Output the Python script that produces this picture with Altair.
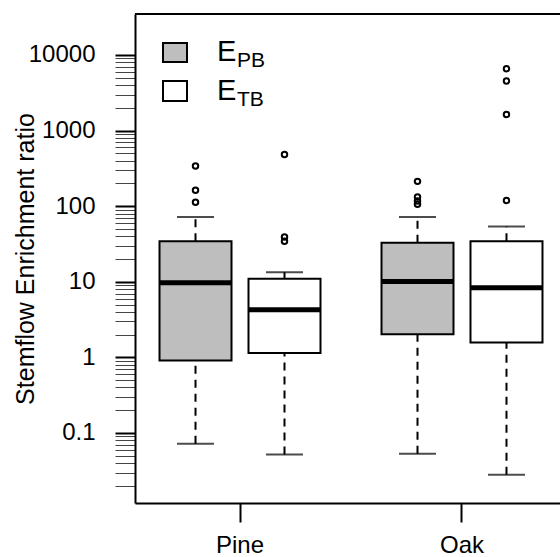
import altair as alt
import pandas as pd

# ---- data ----
species = ["Pine", "Pine", "Oak", "Oak"]
series = ["EPB", "ETB", "EPB", "ETB"]
whisker_low = [0.072, 0.052, 0.053, 0.028]
q1 = [0.91, 1.14, 2.03, 1.58]
median = [9.7, 4.27, 10.1, 8.35]
q3 = [34.5, 11.0, 32.9, 34.5]
whisker_high = [72, 13.4, 72, 54]

out_species = ["Pine"] * 3 + ["Pine"] * 3 + ["Oak"] * 4 + ["Oak"] * 4
out_series = ["EPB"] * 3 + ["ETB"] * 3 + ["EPB"] * 4 + ["ETB"] * 4
out_values = [339, 162, 113, 484, 39, 34.5, 213, 132, 117, 106, 6590, 4520, 1637, 119]

series_order = ["EPB", "ETB"]
series_fill = ["#BEBEBE", "#FFFFFF"]
species_order = ["Pine", "Oak"]

major_ticks = [0.1, 1, 10, 100, 1000, 10000]
minor_decades = [0.01, 0.1, 1, 10, 100, 1000]
minor_mult = [2, 3, 4, 5, 6, 7, 8, 9]

minor_ticks = [round(m * d, 6) for d in minor_decades for m in minor_mult]
tick_values = sorted(major_ticks + minor_ticks)

FONT = "Liberation Sans"

stats = pd.DataFrame({
    "species": species, "series": series,
    "wlo": whisker_low, "q1": q1, "median": median, "q3": q3, "whi": whisker_high,
})
outl = pd.DataFrame({"species": out_species, "series": out_series, "value": out_values})

x_enc = alt.X(
    "species:N", sort=species_order,
    scale=alt.Scale(range=[0, 432], paddingInner=0.254, paddingOuter=0.1),
    axis=alt.Axis(title=None, labelFont=FONT, labelFontSize=24, labelColor="black",
                  labelPadding=11, labelAngle=0, tickSize=19, tickWidth=2,
                  tickColor="black", domainWidth=2, domainColor="black", grid=False),
)
xo_enc = alt.XOffset("series:N", sort=series_order,
                     scale=alt.Scale(paddingInner=0.191, paddingOuter=0.026))

major_test = "indexof([0.1, 1, 10, 100, 1000, 10000], datum.value) >= 0"
y_scale = alt.Scale(type="log", domain=[0.01186, 34850], nice=False)
y_axis = alt.Axis(
    values=tick_values, format="~g",
    labelExpr="indexof(['0.1','1','10','100','1000','10000'], datum.label) >= 0 ? datum.label : ''",
    labelOverlap=False, labelFont=FONT, labelFontSize=24, labelColor="black",
    labelPadding=20, labelBaseline="middle",
    tickSize=20,
    tickColor={"condition": {"test": major_test, "value": "black"}, "value": "#444444"},
    tickWidth={"condition": {"test": major_test, "value": 2}, "value": 1},
    domainWidth=2, domainColor="black", grid=False,
    title="Stemflow Enrichment ratio", titleFont=FONT, titleFontSize=25,
    titleFontWeight="normal", titleColor="black", titleAngle=270,
    titleX=-102, titleY=244.5, titleBaseline="alphabetic", titleAlign="center",
)

base = alt.Chart(stats)

rule_hi = base.mark_rule(color="black", strokeWidth=2, strokeDash=[8, 6]).encode(
    x=x_enc, xOffset=xo_enc,
    y=alt.Y("q3:Q", scale=y_scale, axis=y_axis), y2="whi:Q")
rule_lo = base.mark_rule(color="black", strokeWidth=2, strokeDash=[8, 6]).encode(
    x=x_enc, xOffset=xo_enc, y=alt.Y("wlo:Q", scale=y_scale), y2="q1:Q")
cap_hi = base.mark_tick(color="black", thickness=2, size=37).encode(
    x=x_enc, xOffset=xo_enc, y=alt.Y("whi:Q", scale=y_scale))
cap_lo = base.mark_tick(color="black", thickness=2, size=37).encode(
    x=x_enc, xOffset=xo_enc, y=alt.Y("wlo:Q", scale=y_scale))
boxes = base.mark_bar(stroke="black", strokeWidth=2, opacity=1).encode(
    x=x_enc, xOffset=xo_enc, y=alt.Y("q1:Q", scale=y_scale), y2="q3:Q",
    fill=alt.Fill("series:N", scale=alt.Scale(domain=series_order, range=series_fill),
                  legend=None))
med = base.mark_tick(color="black", thickness=5, size=72, opacity=1).encode(
    x=x_enc, xOffset=xo_enc, y=alt.Y("median:Q", scale=y_scale))
pts = alt.Chart(outl).mark_point(shape="circle", filled=False, size=30,
                                 strokeWidth=2, color="black", opacity=1).encode(
    x=x_enc, xOffset=xo_enc, y=alt.Y("value:Q", scale=y_scale))

# frame top line (view stroke is off so the right edge stays outside the window)
one = pd.DataFrame({"k": [0]})
top_line = alt.Chart(one).mark_rule(color="black", strokeWidth=2).encode(
    x=alt.value(0), x2=alt.value(445), y=alt.value(0))

# custom legend with subscripts
leg_box1 = alt.Chart(one).mark_rect(fill=series_fill[0], stroke="black", strokeWidth=2).encode(
    x=alt.value(28), x2=alt.value(52), y=alt.value(29), y2=alt.value(48))
leg_box2 = alt.Chart(one).mark_rect(fill=series_fill[1], stroke="black", strokeWidth=2).encode(
    x=alt.value(28), x2=alt.value(52), y=alt.value(67), y2=alt.value(87))
leg_texts = []
for main, sub, yb in [("E", "PB", 46.7), ("E", "TB", 86)]:
    leg_texts.append(alt.Chart(one).mark_text(
        text=main, font=FONT, fontSize=29, align="left", baseline="alphabetic",
        color="black").encode(x=alt.value(82), y=alt.value(yb)))
    leg_texts.append(alt.Chart(one).mark_text(
        text=sub, font=FONT, fontSize=21, align="left", baseline="alphabetic",
        color="black").encode(x=alt.value(102), y=alt.value(yb + 6)))

chart = alt.layer(
    rule_hi, rule_lo, cap_hi, cap_lo, boxes, med, pts, top_line,
    leg_box1, leg_box2, *leg_texts
).properties(
    width=425, height=489,
    autosize=alt.AutoSizeParams(type="none"),
    padding={"left": 135, "top": 14, "right": 0, "bottom": 54},
    background="white",
).configure_view(stroke=None)

chart.save("out.html", embed_options={"renderer": "svg", "actions": False})
